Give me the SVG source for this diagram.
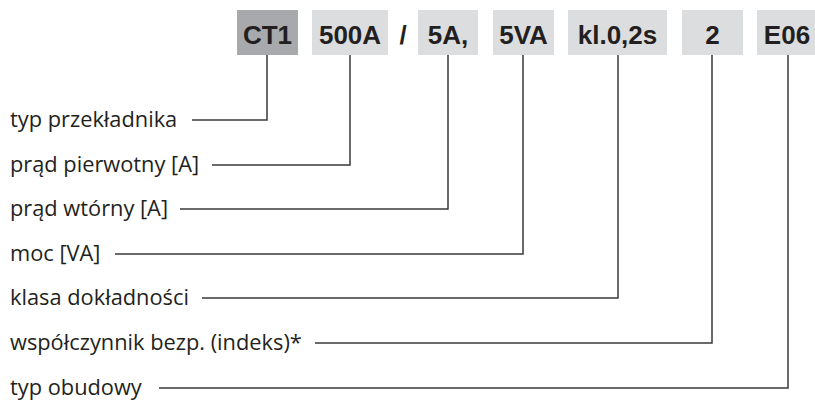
<svg xmlns="http://www.w3.org/2000/svg" width="815" height="401" viewBox="0 0 815 401">
<style>
.box{fill:#dcdddf}
.dark{fill:#a7a9ac}
.code{font-family:"Liberation Sans",Arial,sans-serif;font-weight:bold;font-size:26px;fill:#231f20;text-anchor:middle}
.lbl{font-family:"Open Sans","Noto Sans",sans-serif;font-size:21.8px;fill:#231f20}
.conn{fill:none;stroke:#3a3a3a;stroke-width:1.5}
</style>
<rect width="815" height="401" fill="#ffffff"/>
<g id="code">
<g id="n-ct1"><rect class="dark" x="237" y="10" width="61" height="45"/><text class="code" x="267.5" y="44">CT1</text></g>
<g id="n-500a"><rect class="box" x="312" y="10" width="76" height="45"/><text class="code" x="350" y="44">500A</text></g>
<g id="n-slash"><text class="code" x="403" y="44">/</text></g>
<g id="n-5a"><rect class="box" x="418" y="10" width="60" height="45"/><text class="code" x="448" y="44">5A,</text></g>
<g id="n-5va"><rect class="box" x="493" y="10" width="61" height="45"/><text class="code" x="523.5" y="44">5VA</text></g>
<g id="n-kl"><rect class="box" x="568" y="10" width="99" height="45"/><text class="code" x="617.5" y="44">kl.0,2s</text></g>
<g id="n-2"><rect class="box" x="682" y="10" width="61" height="45"/><text class="code" x="712.5" y="44">2</text></g>
<g id="n-e06"><rect class="box" x="757" y="10" width="58" height="45"/><text class="code" x="787" y="44">E06</text></g>
</g>
<g id="labels">
<g id="l1"><text class="lbl" x="10" y="127">typ przekładnika</text></g>
<g id="l2"><text class="lbl" x="10" y="172">prąd pierwotny [A]</text></g>
<g id="l3"><text class="lbl" x="10" y="216">prąd wtórny [A]</text></g>
<g id="l4"><text class="lbl" x="10" y="261">moc [VA]</text></g>
<g id="l5"><text class="lbl" x="10" y="305">klasa dokładności</text></g>
<g id="l6"><text class="lbl" x="10" y="350">współczynnik bezp. (indeks)*</text></g>
<g id="l7"><text class="lbl" x="10" y="395">typ obudowy</text></g>
</g>
<g id="connectors">
<polyline class="conn" points="267,55 267,120 192,120"/>
<polyline class="conn" points="350,55 350,165 212,165"/>
<polyline class="conn" points="448,55 448,209 180,209"/>
<polyline class="conn" points="523,55 523,254 115,254"/>
<polyline class="conn" points="618,55 618,298 202,298"/>
<polyline class="conn" points="712,55 712,343 315,343"/>
<polyline class="conn" points="788,55 788,388 159,388"/>
</g>
</svg>
